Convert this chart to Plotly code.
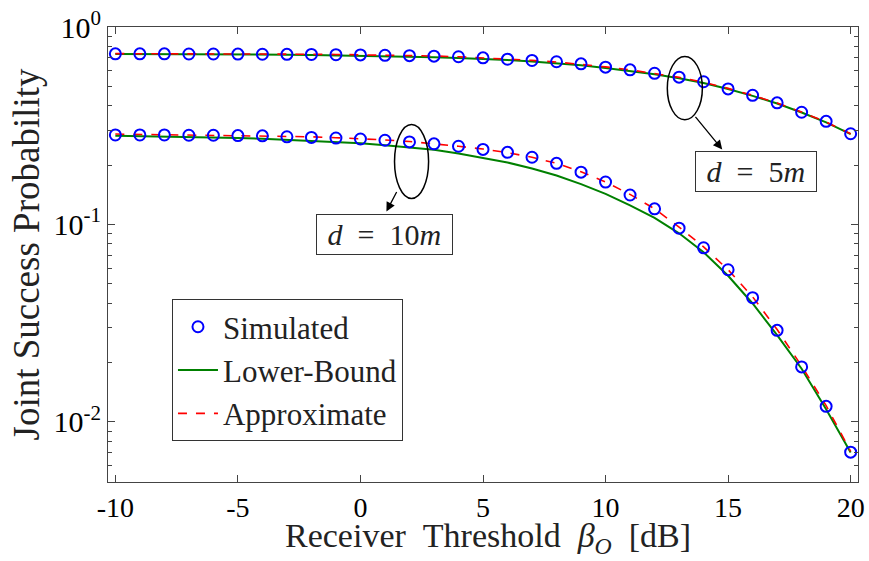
import plotly.graph_objects as go

# ---------------- data ----------------
beta_db = list(range(-10, 21))

sim_d5 = [0.731, 0.731, 0.731, 0.730, 0.730, 0.729, 0.728, 0.727, 0.726, 0.724,
          0.722, 0.719, 0.716, 0.712, 0.707, 0.698, 0.687, 0.677, 0.667, 0.651,
          0.626, 0.607, 0.583, 0.557, 0.528, 0.486, 0.451, 0.413, 0.370, 0.333, 0.288]
approx_d5 = [0.733, 0.733, 0.733, 0.732, 0.732, 0.731, 0.730, 0.729, 0.728, 0.726,
             0.724, 0.721, 0.717, 0.713, 0.707, 0.699, 0.689, 0.678, 0.665, 0.649,
             0.628, 0.607, 0.583, 0.556, 0.525, 0.489, 0.451, 0.412, 0.371, 0.330, 0.288]
lower_d5 = [0.729, 0.729, 0.729, 0.728, 0.728, 0.727, 0.726, 0.724, 0.722, 0.719,
            0.716, 0.712, 0.707, 0.702, 0.696, 0.689, 0.680, 0.669, 0.656, 0.640,
            0.620, 0.599, 0.576, 0.550, 0.520, 0.485, 0.448, 0.410, 0.369, 0.329, 0.287]

sim_d10 = [0.284, 0.284, 0.284, 0.283, 0.283, 0.282, 0.281, 0.278, 0.276, 0.274,
           0.271, 0.267, 0.262, 0.256, 0.249, 0.240, 0.232, 0.219, 0.204, 0.184,
           0.164, 0.141, 0.120, 0.0958, 0.0762, 0.0590, 0.0426, 0.0291, 0.0190, 0.0120, 0.00703]
approx_d10 = [0.287, 0.286, 0.286, 0.285, 0.284, 0.283, 0.282, 0.280, 0.278, 0.275,
              0.272, 0.268, 0.263, 0.257, 0.249, 0.241, 0.231, 0.219, 0.204, 0.185,
              0.164, 0.142, 0.120, 0.097, 0.077, 0.059, 0.043, 0.0294, 0.0192, 0.0121, 0.0071]
lower_d10 = [0.281, 0.280, 0.279, 0.278, 0.276, 0.274, 0.272, 0.269, 0.266, 0.262,
             0.258, 0.252, 0.245, 0.239, 0.229, 0.218, 0.206, 0.192, 0.177, 0.160,
             0.143, 0.125, 0.108, 0.0902, 0.0724, 0.0550, 0.0398, 0.0275, 0.0186, 0.0116, 0.0070]

x_ticks = [-10, -5, 0, 5, 10, 15, 20]
y_ticks = [1, 0.1, 0.01]
y_tick_text = ["10<sup>0</sup>", "10<sup>-1</sup>", "10<sup>-2</sup>"]
y_minor = [k * 10.0 ** e for e in (-3, -2, -1) for k in range(2, 10) if k * 10.0 ** e >= 0.005]

SERIF = "Liberation Serif, Times New Roman, serif"
BLUE, GREEN, RED = "#0000ff", "#008000", "#ff0000"
nb = "\u00a0"

fig = go.Figure()

for i, (lb, ap) in enumerate([(lower_d5, approx_d5), (lower_d10, approx_d10)]):
    fig.add_trace(go.Scatter(x=beta_db, y=lb, mode="lines", name="Lower-Bound",
                             line=dict(color=GREEN, width=2), legendgroup="lb",
                             showlegend=(i == 0), legendrank=2))
    fig.add_trace(go.Scatter(x=beta_db, y=ap, mode="lines", name="Approximate",
                             line=dict(color=RED, width=1.6, dash="dash"), legendgroup="ap",
                             showlegend=(i == 0), legendrank=3))
for i, s in enumerate([sim_d5, sim_d10]):
    fig.add_trace(go.Scatter(x=beta_db, y=s, mode="markers", name="Simulated",
                             marker=dict(symbol="circle-open", size=11, color=BLUE,
                                         line=dict(width=2, color=BLUE)),
                             legendgroup="sim", showlegend=(i == 0), legendrank=1))

axis_common = dict(showline=True, linecolor="#444", linewidth=1, mirror="allticks",
                   ticks="inside", ticklen=7, tickcolor="#444", showgrid=False,
                   zeroline=False, automargin=False)

fig.update_xaxes(range=[-10.3, 20.3], tickmode="array", tickvals=x_ticks,
                 ticktext=[str(v) for v in x_ticks], ticklabelstandoff=0,
                 tickfont=dict(family=SERIF, size=28, color="#000"),
                 **axis_common)
fig.update_yaxes(type="log", range=[-2.304, 0], tickmode="array", tickvals=y_ticks,
                 ticktext=y_tick_text,
                 tickfont=dict(family=SERIF, size=30, color="#000"),
                 minor=dict(tickmode="array", tickvals=y_minor, ticks="inside", ticklen=4,
                            tickcolor="#444", showgrid=False),
                 title=dict(text="Joint Success Probability",
                            font=dict(family=SERIF, size=37, color="#222"), standoff=2),
                 **axis_common)

# x-axis title
fig.add_annotation(x=0.507, y=-0.122, xref="paper", yref="paper", showarrow=False,
                   xanchor="center", yanchor="middle",
                   text=f"Receiver{nb}{nb}Threshold{nb}{nb}<i>β</i><sub><i>O</i></sub>{nb}{nb}[dB]",
                   font=dict(family=SERIF, size=34, color="#222"))

# ellipses marking curve groups
fig.add_shape(type="circle", xref="x", yref="y", x0=1.39, x1=2.78, y0=0.1355, y1=0.3206,
              line=dict(color="#000", width=1.5))
fig.add_shape(type="circle", xref="x", yref="y", x0=12.52, x1=13.95, y0=0.339, y1=0.709,
              line=dict(color="#000", width=1.5))

# arrows
fig.add_annotation(x=1.06, y=-0.934, xref="x", yref="y", text="", showarrow=True,
                   ax=11, ay=-21, arrowhead=2, arrowsize=1.4, arrowwidth=1.3, arrowcolor="#000")
fig.add_annotation(x=14.76, y=-0.620, xref="x", yref="y", text="", showarrow=True,
                   ax=-28, ay=-34, arrowhead=2, arrowsize=1.4, arrowwidth=1.3, arrowcolor="#000")

# labels
fig.add_annotation(x=0.98, y=-1.051, xref="x", yref="y", showarrow=False,
                   text=f"{nb}<i>d</i>{nb}{nb}={nb}{nb}10<i>m</i>{nb}",
                   font=dict(family=SERIF, size=30, color="#222"),
                   bordercolor="#333", borderwidth=1, borderpad=3, bgcolor="white")
fig.add_annotation(x=16.12, y=-0.732, xref="x", yref="y", showarrow=False,
                   text=f"{nb}<i>d</i>{nb}{nb}={nb}{nb}5<i>m</i>{nb}",
                   font=dict(family=SERIF, size=30, color="#222"),
                   bordercolor="#333", borderwidth=1, borderpad=3, bgcolor="white")

fig.update_layout(
    width=869, height=561,
    margin=dict(l=108, r=11, t=27, b=79),
    plot_bgcolor="white", paper_bgcolor="white",
    legend=dict(x=0.0853, y=0.402, xanchor="left", yanchor="top",
                bgcolor="white", bordercolor="#333", borderwidth=1,
                font=dict(family=SERIF, size=31, color="#222"),
                tracegroupgap=0, itemwidth=40),
    showlegend=True,
)

fig.write_html("out.html")
